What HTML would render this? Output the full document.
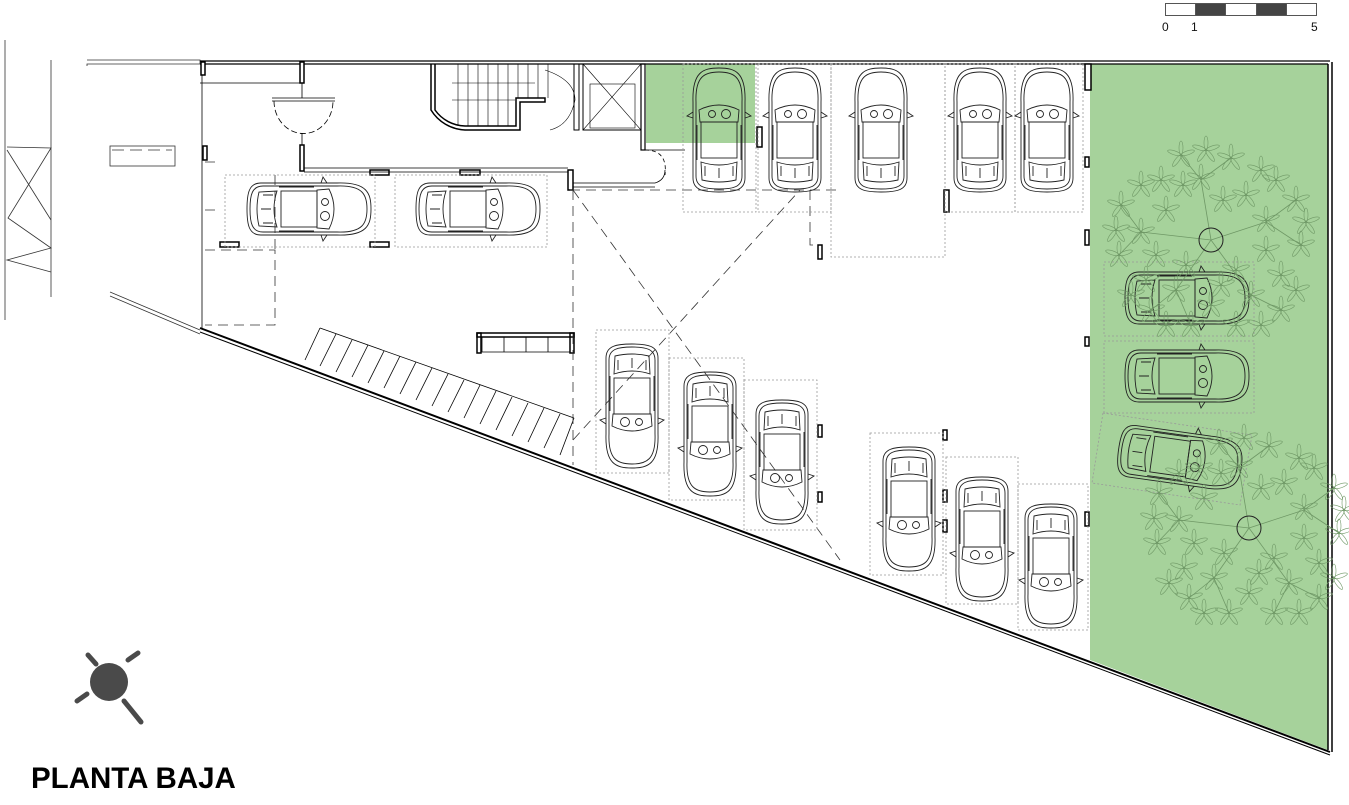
<!DOCTYPE html>
<html><head><meta charset="utf-8"><style>
html,body{margin:0;padding:0;background:#fff;width:1349px;height:805px;overflow:hidden}
svg{display:block}
</style></head><body>
<svg width="1349" height="805" viewBox="0 0 1349 805" xmlns="http://www.w3.org/2000/svg">
<defs>
<g id="car" fill="none" stroke="#222" stroke-width="0.9">
<path d="M-26,-28 C-27,-58 -16,-62 0,-62 C16,-62 27,-58 26,-28 L26,48 C26,60 16,62 0,62 C-16,62 -26,60 -26,48 Z"/>
<path d="M-23,-28 C-24,-54 -14,-58 0,-58 C14,-58 24,-54 23,-28 L23,46 C23,57 14,59 0,59 C-14,59 -23,57 -23,46 Z"/>
<path d="M-20,-20 Q0,-30 20,-20 L19,-8 L-19,-8 Z"/>
<rect x="-18" y="-8" width="36" height="36"/>
<path d="M-18,32 Q0,38 18,32 L17,50 Q0,54 -17,50 Z"/>
<path d="M-26,-18 L-32,-14 L-26,-12 M26,-18 L32,-14 L26,-12"/>
<circle cx="-7" cy="-16" r="3.5"/><circle cx="7" cy="-16" r="4.5"/>
<path d="M-22,-5 L-22,30 M22,-5 L22,30 M-14,36 L-14,46 M0,38 L0,48 M14,36 L14,46"/>
</g>
<g id="lf" fill="none" stroke="#6f9866" stroke-width="0.6">
<ellipse cx="0" cy="-7" rx="2" ry="7"/><ellipse cx="0" cy="-7" rx="2" ry="7" transform="rotate(72)"/><ellipse cx="0" cy="-7" rx="2" ry="7" transform="rotate(144)"/><ellipse cx="0" cy="-7" rx="2" ry="7" transform="rotate(216)"/><ellipse cx="0" cy="-7" rx="2" ry="7" transform="rotate(288)"/>
</g>
<g id="tree">
<g stroke="#6f9866" stroke-width="0.8" fill="none">
<path d="M0,0 L-10,-60 M0,0 L55,-18 M0,0 L40,55 M0,0 L-35,50 M0,0 L-70,-8"/>
<path d="M-10,-60 L-30,-85 M-10,-60 L20,-82 M55,-18 L85,-40 M55,-18 L90,5 M40,55 L70,70 M40,55 L25,85 M-35,50 L-60,70 M-35,50 L-20,85 M-70,-8 L-90,-35 M-70,-8 L-92,15"/>
</g>
<use href="#lf" x="-30" y="-85"/><use href="#lf" x="20" y="-82"/><use href="#lf" x="-10" y="-62"/><use href="#lf" x="85" y="-40"/><use href="#lf" x="90" y="5"/><use href="#lf" x="55" y="-20"/><use href="#lf" x="70" y="70"/><use href="#lf" x="25" y="85"/><use href="#lf" x="40" y="55"/><use href="#lf" x="-60" y="70"/><use href="#lf" x="-20" y="85"/><use href="#lf" x="-35" y="50"/><use href="#lf" x="-90" y="-35"/><use href="#lf" x="-92" y="15"/><use href="#lf" x="-70" y="-8"/><use href="#lf" x="-50" y="-60"/><use href="#lf" x="50" y="-70"/><use href="#lf" x="70" y="35"/><use href="#lf" x="-65" y="40"/><use href="#lf" x="0" y="65"/><use href="#lf" x="-45" y="-30"/><use href="#lf" x="35" y="-45"/><use href="#lf" x="25" y="30"/><use href="#lf" x="-25" y="25"/>
<use href="#lf" x="-5" y="-90"/><use href="#lf" x="65" y="-60"/><use href="#lf" x="95" y="-18"/><use href="#lf" x="85" y="50"/><use href="#lf" x="50" y="85"/><use href="#lf" x="-45" y="85"/><use href="#lf" x="-80" y="55"/><use href="#lf" x="-95" y="-10"/><use href="#lf" x="-70" y="-55"/><use href="#lf" x="-28" y="-55"/><use href="#lf" x="12" y="-40"/><use href="#lf" x="-55" y="15"/><use href="#lf" x="55" y="10"/><use href="#lf" x="10" y="45"/>
<circle cx="0" cy="0" r="12" fill="none" stroke="#222" stroke-width="1"/>
</g>
</defs>

<rect x="646" y="64" width="109" height="79" fill="#a6d29b"/>
<polygon points="1090,64 1328,64 1328,750 1090,660" fill="#a6d29b"/>

<g stroke="#555" stroke-width="1">
<rect x="1165.5" y="3.5" width="30" height="12" fill="#fff"/>
<rect x="1195.5" y="3.5" width="30" height="12" fill="#444"/>
<rect x="1225.5" y="3.5" width="31" height="12" fill="#fff"/>
<rect x="1256.5" y="3.5" width="30" height="12" fill="#444"/>
<rect x="1286.5" y="3.5" width="30" height="12" fill="#fff"/>
</g>
<g font-family="Liberation Sans, sans-serif" font-size="12" fill="#111">
<text x="1162" y="31">0</text><text x="1191" y="31">1</text><text x="1311" y="31">5</text>
</g>

<g stroke="#333" stroke-width="0.8" fill="none">
<path d="M5,40 L5,320 M51,60 L51,297"/>
<path d="M7,147 L51,148 L8,218 L51,248 L7,260 L51,272"/>
<path d="M7,150 L51,220"/>
<path d="M87,60 L200,60 L200,64 L87,64 L87,66"/>
<rect x="110" y="146" width="65" height="20"/>
<path d="M112,150 L172,150" stroke-dasharray="12,6"/>
<path d="M110,292 L200,330 M110,296 L200,334"/>
</g>

<g stroke="#000" fill="none">
<path d="M200,61 L1330,61" stroke-width="1.2"/>
<path d="M200,64 L1328,64" stroke-width="1.2"/>
<path d="M1328,64 L1328,750 M1332,62 L1332,752" stroke-width="1.5"/>
<path d="M200,328 L1330,752" stroke-width="2"/>
<path d="M200,332 L1330,755" stroke-width="1"/>
<path d="M202,64 L202,328" stroke-width="0.8"/>
</g>
<g fill="#fff" stroke="#000" stroke-width="1.5">
<rect x="201" y="62" width="4" height="13"/>
<rect x="300" y="62" width="4" height="21"/>
<rect x="300" y="145" width="4" height="26"/>
<rect x="203" y="146" width="4" height="14"/>
<rect x="568" y="170" width="5" height="20"/>
<rect x="1085" y="64" width="6" height="26"/>
<rect x="757" y="127" width="5" height="20"/>
<rect x="944" y="190" width="5" height="22"/>
<rect x="818" y="245" width="4" height="14"/>
<rect x="1085" y="157" width="4" height="10"/>
<rect x="1085" y="230" width="4" height="15"/>
<rect x="1085" y="337" width="4" height="9"/>
<rect x="1085" y="512" width="4" height="14"/>
<rect x="818" y="425" width="4" height="12"/>
<rect x="818" y="492" width="4" height="10"/>
<rect x="943" y="430" width="4" height="10"/>
<rect x="943" y="490" width="4" height="12"/>
<rect x="943" y="520" width="4" height="12"/>
<rect x="370" y="170" width="19" height="5"/>
<rect x="460" y="170" width="20" height="5"/>
<rect x="370" y="242" width="19" height="5"/>
<rect x="220" y="242" width="19" height="5"/>
</g>
<g stroke="#000" stroke-width="0.8" fill="none">
<path d="M200,83 L304,83 M304,172 L568,172 M304,168 L568,168"/>
<path d="M573,183 L655,183 Q665,180 665,170" />
<path d="M573,187 L655,187"/>
<path d="M645,150 Q668,150 665,175" stroke-dasharray="4,3"/>
<path d="M272,98 L335,98 M272,101 L335,101"/>
<path d="M274,101 A29,32 0 0 0 333,101" stroke-dasharray="6,3"/>
<path d="M302,83 L302,98 M302,133 L302,145"/>
</g>
<g stroke="#000" fill="none">
<path d="M431,64 L431,110 A42,42 0 0 0 465,130 L520,130 L520,102 L545,102 L545,98 L516,98 L516,126 L465,126 A38,38 0 0 1 435,110 L435,64" stroke-width="1.5"/>
<path d="M458,64 L458,126 M468,64 L468,126 M478,64 L478,126 M488,64 L488,126 M498,64 L498,126 M508,64 L508,126 M518,64 L518,98 M528,64 L528,98 M538,64 L538,98 M548,64 L548,98" stroke-width="0.6"/>
<path d="M452,83 L535,83 M452,100 L515,100" stroke-width="0.6"/>
<path d="M545,70 Q575,80 575,100 Q570,125 550,130" stroke-width="0.6"/>
<rect x="574" y="64" width="5" height="66" stroke-width="1"/>
<rect x="583" y="64" width="58" height="66" stroke-width="1"/>
<rect x="590" y="84" width="45" height="44" stroke-width="0.6"/>
<path d="M583,64 L641,130 M641,64 L583,130" stroke-width="0.6"/>
<rect x="641" y="64" width="4" height="86" stroke-width="1.2"/>
<path d="M645,150 L685,150" stroke-width="0.8"/>
</g>
<g stroke="#000" fill="none">
<rect x="477" y="333" width="97" height="4" stroke-width="1.5"/>
<rect x="477" y="333" width="4" height="20" stroke-width="1.5"/>
<rect x="570" y="333" width="4" height="20" stroke-width="1.5"/>
<path d="M482,337 L482,352 L570,352 M504,337 L504,352 M526,337 L526,352 M548,337 L548,352" stroke-width="0.8"/>
</g>
<g stroke="#000" stroke-width="0.8" fill="none">
<path d="M320,328 L574,418 M320,328 L305,360 M336,334 L320,366 M352,340 L336,372 M368,345 L352,377 M384,351 L368,383 M400,356 L384,388 M416,362 L400,394 M432,368 L416,400 M448,374 L432,406 M464,380 L448,412 M480,385 L464,418 M496,391 L480,424 M512,397 L496,430 M528,403 L512,436 M544,408 L528,442 M560,414 L544,448 M574,418 L560,455"/>
</g>
<g stroke="#333" stroke-width="0.8" fill="none" stroke-dasharray="10,6">
<path d="M205,162 L218,162 M205,210 L218,210 M205,250 L275,250 L275,325 L205,325 M275,175 L275,250"/>
<path d="M570,190 L840,190 M573,190 L573,465"/>
<path d="M573,190 L840,560 M573,440 L800,190"/>
<path d="M810,190 L810,245 L818,245"/>
</g>
<g stroke="#999" stroke-width="0.8" fill="none" stroke-dasharray="2,2">
<rect x="225" y="175" width="150" height="72"/>
<rect x="395" y="175" width="152" height="72"/>
<rect x="683" y="64" width="73" height="148"/>
<rect x="758" y="64" width="73" height="148"/>
<rect x="831" y="64" width="114" height="193"/>
<rect x="945" y="64" width="70" height="148"/>
<rect x="1015" y="64" width="68" height="148"/>
<rect x="596" y="330" width="73" height="143"/>
<rect x="669" y="358" width="75" height="142"/>
<rect x="744" y="380" width="73" height="150"/>
<rect x="870" y="433" width="73" height="142"/>
<rect x="946" y="457" width="72" height="147"/>
<rect x="1018" y="484" width="70" height="146"/>
<rect x="1104" y="262" width="150" height="74"/>
<rect x="1104" y="341" width="150" height="72"/>
<polygon points="1103,413 1252,435 1240,505 1092,483"/>
</g>
<use href="#car" transform="translate(719,130)"/>
<use href="#car" transform="translate(795,130)"/>
<use href="#car" transform="translate(881,130)"/>
<use href="#car" transform="translate(980,130)"/>
<use href="#car" transform="translate(1047,130)"/>
<use href="#car" transform="translate(309,209) rotate(90)"/>
<use href="#car" transform="translate(478,209) rotate(90)"/>
<use href="#car" transform="translate(632,406) rotate(180)"/>
<use href="#car" transform="translate(710,434) rotate(180)"/>
<use href="#car" transform="translate(782,462) rotate(180)"/>
<use href="#car" transform="translate(909,509) rotate(180)"/>
<use href="#car" transform="translate(982,539) rotate(180)"/>
<use href="#car" transform="translate(1051,566) rotate(180)"/>
<use href="#car" transform="translate(1187,298) rotate(90)"/>
<use href="#car" transform="translate(1187,376) rotate(90)"/>
<use href="#car" transform="translate(1180,458) rotate(98)"/>
<use href="#tree" transform="translate(1211,240)"/>
<use href="#tree" transform="translate(1249,528)"/>

<g stroke="#4a4a4a" stroke-width="5" stroke-linecap="round">
<line x1="88" y1="655" x2="96" y2="664"/>
<line x1="128" y1="660" x2="138" y2="653"/>
<line x1="77" y1="701" x2="87" y2="694"/>
<line x1="124" y1="701" x2="141" y2="722"/>
</g>
<circle cx="109" cy="682" r="19" fill="#4a4a4a"/>
<text x="31" y="788" font-family="Liberation Sans, sans-serif" font-size="29.5" font-weight="bold" fill="#000">PLANTA BAJA</text>
</svg>
</body></html>
